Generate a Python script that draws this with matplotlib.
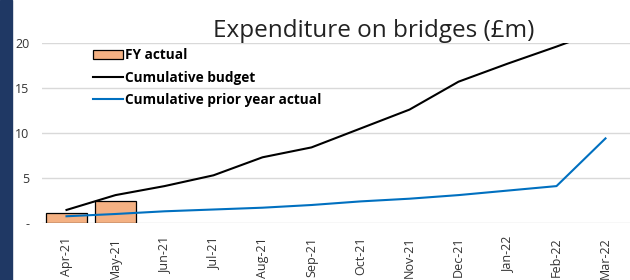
import numpy as np
import matplotlib.pyplot as plt
from matplotlib.patches import Rectangle

months = ["Apr-21", "May-21", "Jun-21", "Jul-21", "Aug-21", "Sep-21",
          "Oct-21", "Nov-21", "Dec-21", "Jan-22", "Feb-22", "Mar-22"]
fy_actual = [1.1, 2.45]
cum_budget = [1.45, 3.1, 4.1, 5.3, 7.3, 8.4, 10.5, 12.6, 15.7, 17.7, 19.6, 21.6]
cum_prior = [0.75, 1.0, 1.3, 1.5, 1.7, 2.0, 2.4, 2.7, 3.1, 3.6, 4.1, 9.4]

plt.rcParams["font.family"] = ["Open Sans", "DejaVu Sans"]

fig = plt.figure(figsize=(6.3, 2.8), dpi=100)
fig.patches.append(Rectangle((0, 0), 12 / 630, 1, transform=fig.transFigure,
                             color="#1F3864", zorder=0))

ax = fig.add_axes([42 / 630, 57 / 280, 588 / 630, 180 / 280])
x = np.arange(len(months))

bars = ax.bar(x[:len(fy_actual)], fy_actual, width=0.85, color="#F4B183",
              edgecolor="black", linewidth=0.9, zorder=2)
l1, = ax.plot(x, cum_budget, color="black", linewidth=1.5, zorder=3)
l2, = ax.plot(x, cum_prior, color="#0070C0", linewidth=1.5, zorder=3)

ax.set_xlim(-0.5, len(months) - 0.5)
ax.set_ylim(0, 20)
ax.set_yticks([0, 5, 10, 15, 20])
ax.set_yticklabels(["-", "5", "10", "15", "20"])
ax.set_xticks(x)
ax.set_xticklabels(months, rotation=90)
ax.tick_params(length=0, labelsize=9, colors="#333333")
ax.tick_params(axis="y", pad=9)
ax.tick_params(axis="x", pad=10)
ax.grid(axis="y", color="#D9D9D9", linewidth=1)
ax.set_axisbelow(True)
for s in ax.spines.values():
    s.set_visible(False)

fig.text(374 / 630, 1 - 31 / 280, "Expenditure on bridges (£m)",
         ha="center", va="center", fontsize=17.5, color="#222222")

ax.legend([bars, l1, l2],
          ["FY actual", "Cumulative budget", "Cumulative prior year actual"],
          loc="upper left", bbox_to_anchor=(0.077, 1.0), frameon=False,
          prop={"weight": "bold", "size": 9.8}, handlelength=2.2,
          handletextpad=0.15, labelspacing=0.6, borderaxespad=0)

fig.savefig("out.png", dpi=100)
